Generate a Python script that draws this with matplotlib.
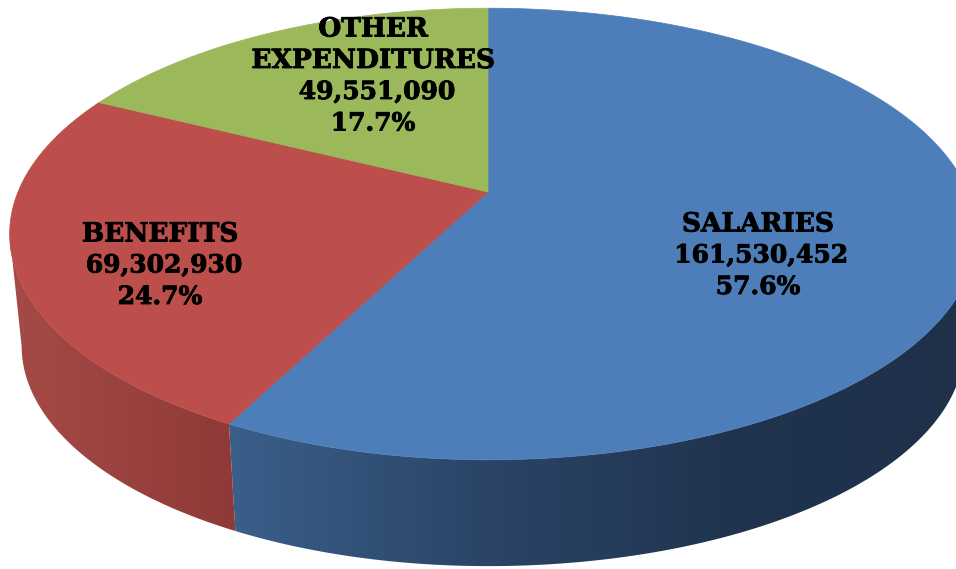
import numpy as np
import matplotlib
matplotlib.use("Agg")
import matplotlib.pyplot as plt
import matplotlib.patheffects as pe
from matplotlib.patches import Polygon
from matplotlib.colors import LinearSegmentedColormap

labels = [["SALARIES"], ["BENEFITS"], ["OTHER", "EXPENDITURES"]]
values = [161530452, 69302930, 49551090]
percents = ["57.6%", "24.7%", "17.7%"]
top_colors = ["#4e7eb9", "#bc4f4b", "#9bb85a"]
# rim colours, left to right across each slice
side_colors = [["#3a5f8a", "#2b4568", "#20344f", "#1f3049"],
               ["#a54b47", "#9a423f", "#8f3a38"],
               ["#7f9a48", "#5f7530"]]
# name, number and percent centres for each label
label_x = [(758, 761, 758), (160, 164, 160), (373, 377, 373)]
label_y = [224, 234, 29]
line_step = 31.5


def project(angle_deg, lower=False):
    """Clockwise angle from 12 o'clock to pixel position, with perspective."""
    a = np.radians(angle_deg)
    u, v = np.sin(a), np.cos(a)
    w = 1 / (1 + 0.186 * v)
    # the right side of the pie runs a little wider than the left
    x, y = (480 if u > 0 else 470) * u * w, 218 * v * w
    if lower:
        return 488 + 0.975 * x, 305 - 0.975 * y
    return 488 + x, 192 - y


fig = plt.figure(figsize=(9.56, 5.69), dpi=100)
ax = fig.add_axes([0, 0, 1, 1])

fractions = np.array(values) / sum(values)
edges = np.concatenate([[0], np.cumsum(fractions) * 360])

# where the rim silhouette turns: widest points of the top ellipse
sweep = np.linspace(0, 360, 1441)
sweep_x = np.array([project(a)[0] for a in sweep])
right_turn, left_turn = sweep[sweep_x.argmax()], sweep[sweep_x.argmin()]

# rim first: a gradient image clipped to the outline of each slice
for i in range(len(values)):
    a0, a1 = max(edges[i], right_turn), min(edges[i + 1], left_turn)
    if a0 >= a1:
        continue
    angles = np.linspace(a0, a1, 300)
    outline = [project(a) for a in angles] + [project(a, True) for a in angles[::-1]]
    rim = Polygon(outline, facecolor="none", edgecolor="none", transform=ax.transData)
    ax.add_patch(rim)
    xs = [p[0] for p in outline]
    cmap = LinearSegmentedColormap.from_list(f"rim{i}", side_colors[i])
    img = ax.imshow(np.linspace(0, 1, 256).reshape(1, -1), cmap=cmap, aspect="auto",
                    extent=[min(xs), max(xs), 569, 0])
    img.set_clip_path(rim)

ax.set_xlim(0, 956)
ax.set_ylim(569, 0)
ax.axis("off")

# top of the pie
for i in range(len(values)):
    angles = np.linspace(edges[i], edges[i + 1], 300)
    pts = [(488, 192)] + [project(a) for a in angles]
    ax.add_patch(Polygon(pts, facecolor=top_colors[i], edgecolor=top_colors[i], linewidth=0.5))

stroke = [pe.withStroke(linewidth=0.6, foreground="black")]
for i in range(len(values)):
    rows = [(name, label_x[i][0], 19) for name in labels[i]]
    rows.append((f"{values[i]:,}", label_x[i][1], 18))
    rows.append((percents[i], label_x[i][2], 18))
    for n, (text, x, size) in enumerate(rows):
        ax.text(x, label_y[i] + n * line_step, text, ha="center", va="center",
                family="DejaVu Serif", fontweight="bold", fontsize=size,
                color="black", path_effects=stroke)

fig.savefig("out.png", dpi=100)
